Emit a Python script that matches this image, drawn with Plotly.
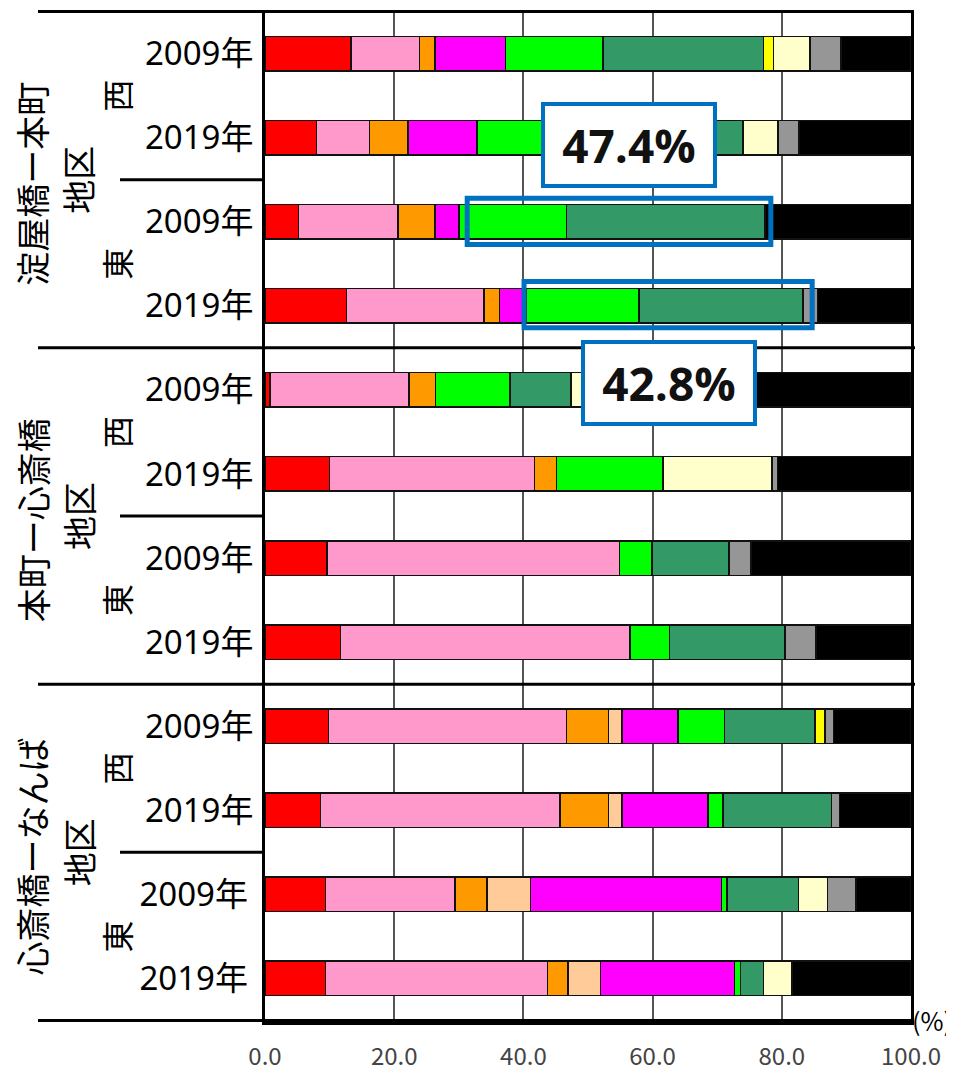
import plotly.graph_objects as go

# ---- data (top to bottom) ----
areas = ["淀屋橋ー本町", "本町ー心斎橋", "心斎橋ーなんば"]
sides = ["西", "東"]
years = ["2009年", "2019年"]

row_area = ["淀屋橋ー本町"] * 4 + ["本町ー心斎橋"] * 4 + ["心斎橋ーなんば"] * 4
row_side = ["西", "西", "東", "東"] * 3
row_year = ["2009年", "2019年"] * 6

series_names = ["区分1", "区分2", "区分3", "区分4", "区分5", "区分6",
                "区分7", "区分8", "区分9", "区分10", "区分11"]
series_colors = ["#FF0000", "#FF99CC", "#FF9900", "#FFCC99", "#FF00FF", "#00FF00",
                 "#339966", "#FFFF00", "#FFFFCC", "#969696", "#000000"]

red     = [13.3, 8.0, 5.2, 12.6, 0.8, 10.0, 9.6, 11.7, 9.8, 8.6, 9.4, 9.4]
pink    = [10.6, 8.2, 15.4, 21.3, 21.5, 31.7, 45.3, 44.8, 36.9, 37.1, 20.0, 34.3]
orange  = [2.4, 5.9, 5.7, 2.4, 4.1, 3.4, 0, 0, 6.5, 7.5, 5.0, 3.2]
peach   = [0, 0, 0, 0, 0, 0, 0, 0, 2.1, 2.1, 6.7, 5.0]
magenta = [10.9, 10.7, 3.7, 4.2, 0, 0, 0, 0, 8.6, 13.3, 29.6, 20.8]
green   = [15.1, 18.2, 16.7, 17.4, 11.5, 16.5, 5.0, 6.1, 7.2, 2.3, 0.8, 0.9]
dkgreen = [24.9, 23.0, 30.7, 25.4, 9.5, 0, 11.9, 17.9, 14.0, 16.8, 11.1, 3.6]
yellow  = [1.5, 0, 0, 0, 0, 0, 0, 0, 1.6, 0, 0, 0]
cream   = [5.7, 5.4, 0, 0, 27.1, 16.9, 0, 0, 0, 0, 4.5, 4.4]
gray    = [4.8, 3.3, 0, 2.2, 1.5, 0.8, 3.4, 4.8, 1.3, 1.2, 4.4, 0]
black   = [10.8, 17.3, 22.6, 14.5, 24.0, 20.7, 24.8, 14.7, 12.0, 11.1, 8.5, 18.4]

series_values = [red, pink, orange, peach, magenta, green, dkgreen, yellow, cream, gray, black]

highlight_labels = ["47.4%", "42.8%"]

# ---- figure ----
ids = [f"{a}・{s}・{y}" for a, s, y in zip(row_area, row_side, row_year)]
# the last two labels sit slightly further left in the original
tick_text = [y + ("\u2009" if i >= 10 else "") for i, y in enumerate(row_year)]

fig = go.Figure()
for name, color, vals in zip(series_names, series_colors, series_values):
    fig.add_trace(go.Bar(
        y=ids, x=[v if v else None for v in vals], name=name, orientation="h",
        marker=dict(color=color, line=dict(color="#111111", width=1.5)),
        hoverinfo="x+name",
    ))

# the page body adds an 8px margin, so the figure is sized to fit the window
OFF = 8
W, H = 954 - OFF, 1071 - OFF
L, T = 265 - OFF, 10 - OFF
pw, ph = 646, 1012
R = W - L - pw
B = H - T - ph

def px_to_paper_x(px):
    # px in window coordinates
    return (px - OFF - L) / pw

fig.update_layout(
    width=W, height=H, barmode="stack", bargap=0.59, showlegend=False,
    margin=dict(l=L, r=R, t=T, b=B, autoexpand=False),
    plot_bgcolor="white", paper_bgcolor="white",
    font=dict(family="Noto Sans CJK JP", color="#000000"),
)
fig.update_xaxes(
    range=[0, 100], dtick=20, tickformat=".1f",
    showgrid=True, gridcolor="#555555", gridwidth=1.5,
    showline=True, linecolor="#000000", linewidth=3, mirror=False,
    ticks="", ticklabelstandoff=11, automargin=False,
    tickfont=dict(size=24, color="#444444", family="Noto Sans CJK JP"),
    zeroline=False,
)
fig.update_yaxes(
    categoryorder="array", categoryarray=ids, autorange="reversed",
    tickvals=ids, ticktext=tick_text, automargin=False,
    showline=True, linecolor="#000000", linewidth=3, mirror=True,
    ticks="", ticklabelstandoff=2,
    tickfont=dict(size=33, color="#000000", family="Noto Sans, Noto Sans CJK JP"),
    showgrid=False,
)

# separator lines
full_left = px_to_paper_x(38)
short_left = px_to_paper_x(120)
line_style = dict(color="#000000", width=3)
for yv, kind in [(-0.5, "full"), (1.5, "short"), (3.5, "full"), (5.5, "short"),
                 (7.5, "full"), (9.5, "short"), (11.5, "full")]:
    x0 = full_left if kind == "full" else short_left
    x1 = 1.0 if kind != "short" else 0.0
    if yv in (3.5, 7.5):
        x1 = px_to_paper_x(915)
    fig.add_shape(type="line", xref="paper", yref="y", x0=x0, x1=x1, y0=yv, y1=yv,
                  line=line_style, layer="above")

# side labels (西 / 東)
for g in range(3):
    for s_i, s in enumerate(sides):
        center = g * 4 + s_i * 2 + 0.5
        fig.add_annotation(text=s, xref="paper", yref="y", x=px_to_paper_x(116), y=center,
                           textangle=-90, showarrow=False, xanchor="center", yanchor="middle",
                           font=dict(size=32, family="Noto Sans CJK JP", color="#000000"))
    gcenter = g * 4 + 1.5
    fig.add_annotation(text=areas[g], xref="paper", yref="y", x=px_to_paper_x(32), y=gcenter + 0.05,
                       textangle=-90, showarrow=False, xanchor="center", yanchor="middle",
                       font=dict(size=34, family="Noto Sans CJK JP", color="#000000"))
    fig.add_annotation(text="地区", xref="paper", yref="y", x=px_to_paper_x(78), y=gcenter,
                       textangle=-90, showarrow=False, xanchor="center", yanchor="middle",
                       font=dict(size=34, family="Noto Sans CJK JP", color="#000000"))

# highlight rectangles
blue = "#0070C0"
fig.add_shape(type="rect", xref="x", yref="y", x0=31.3, x1=78.3, y0=1.72, y1=2.27,
              line=dict(color=blue, width=5), fillcolor="rgba(0,0,0,0)", layer="above")
fig.add_shape(type="rect", xref="x", yref="y", x0=40.1, x1=84.7, y0=2.71, y1=3.26,
              line=dict(color=blue, width=5), fillcolor="rgba(0,0,0,0)", layer="above")

# value boxes
for txt, xc, yc in [(highlight_labels[0], 56.4, 1.09), (highlight_labels[1], 62.6, 3.92)]:
    fig.add_annotation(text=f"<b>{txt}</b>", xref="x", yref="y", x=xc, y=yc,
                       showarrow=False, xanchor="center", yanchor="middle",
                       bgcolor="white", bordercolor=blue, borderwidth=4,
                       width=168, height=78, borderpad=0,
                       font=dict(size=46, family="Liberation Sans Narrow, Open Sans", color="#111111"))

# (%) unit
fig.add_annotation(text="(%)", xref="paper", yref="paper", x=px_to_paper_x(954), y=0.002,
                   showarrow=False, xanchor="right", yanchor="middle",
                   font=dict(size=25, family="Noto Sans CJK JP", color="#000000"))

fig.write_html("out.html")
